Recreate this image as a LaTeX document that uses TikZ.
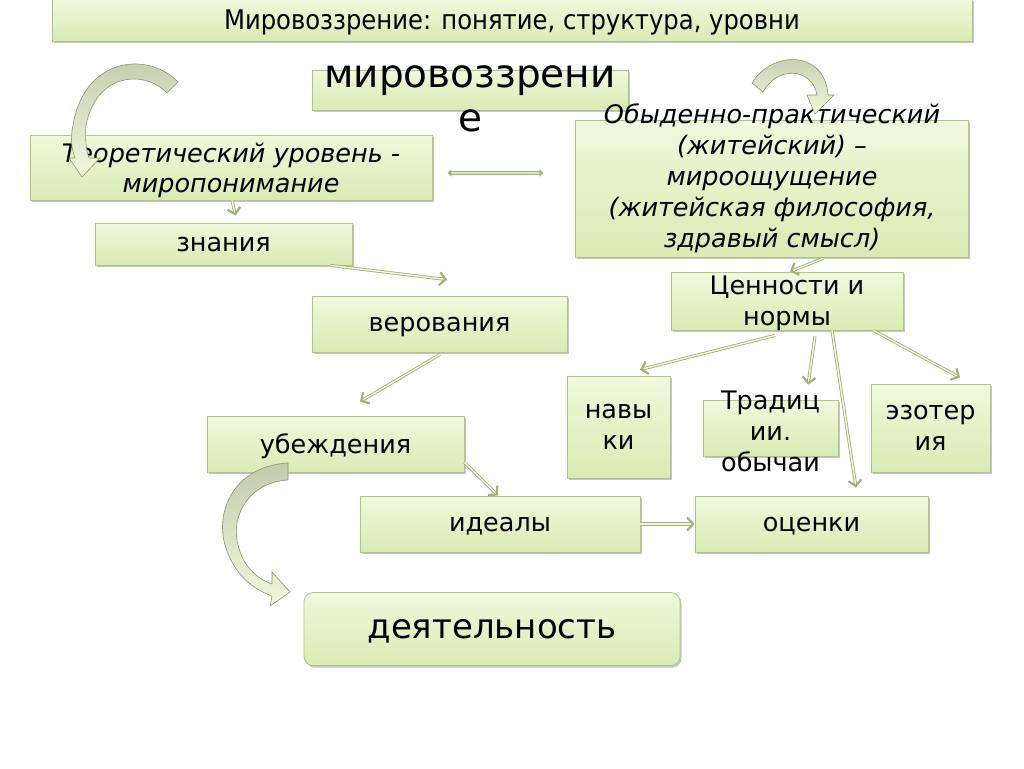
\documentclass[tikz,border=0pt]{standalone}
\usepackage{fontspec}
\setmainfont{DejaVu Sans}
\newfontfamily\titlefont{DejaVu Sans Condensed}
\usetikzlibrary{positioning, arrows.meta, shadows}

\definecolor{cajaarriba}{HTML}{F1F8DC}
\definecolor{cajaabajo}{HTML}{D9EBB3}
\definecolor{borde}{HTML}{B1C488}
\definecolor{flecha}{HTML}{A2B179}
\definecolor{curvagris}{HTML}{C3CAAE}

\begin{document}
\begin{tikzpicture}[x=1pt, y=-1pt,
  caja/.style={draw=borde, line width=0.8pt, top color=cajaarriba, bottom color=cajaabajo,
    drop shadow={shadow xshift=1.5pt, shadow yshift=-2pt, fill=black!50, opacity=0.45},
    inner sep=0pt, align=center, text depth=-3.5pt, font=\fontsize{25.5}{31}\selectfont},
  texto/.style={inner sep=0pt, align=center, font=\fontsize{25.5}{31}\selectfont},
  conector/.style={draw=flecha, line width=0.85pt, double=cajaarriba, double distance=1.4pt,
    -{Straight Barb[length=6pt, width=13pt, line width=2.2pt]}},
  doble/.style={draw=flecha, line width=0.7pt, double=cajaabajo, double distance=2.8pt,
    {Latex[length=4pt, width=8pt]}-{Latex[length=4pt, width=8pt]}},
  curva/.style={draw=flecha!85!black, line width=0.6pt, top color=curvagris, bottom color=cajaarriba}
]
  \useasboundingbox (0,0) rectangle (1024,768);

  % Titulo
  \node[caja, minimum width=920, minimum height=42, font=\titlefont\fontsize{27}{31}\selectfont] (titulo) at (512,20) {Мировоззрение: понятие, структура, уровни};

  % Cajas principales
  \node[caja, minimum width=316, minimum height=40] (mirbox) at (470,90) {};
  \node[texto, font=\fontsize{39}{44}\selectfont] (mirtext) at (470,99) {мировоззрени\\е};

  \node[caja, minimum width=402, minimum height=65, font=\itshape\fontsize{25.5}{30}\selectfont] (teor) at (231,167.5) {Теоретический уровень -\\миропонимание};

  \node[caja, minimum width=393, minimum height=137] (obydbox) at (771.5,188.5) {};
  \node[texto, font=\itshape\fontsize{25.5}{31}\selectfont] (obydtext) at (772,178.5) {Обыденно-практический\\(житейский) –\\мироощущение\\(житейская философия,\\здравый смысл)};

  % Rama izquierda
  \node[caja, minimum width=257, minimum height=42] (znan) at (223.5,244) {знания};
  \node[caja, minimum width=255, minimum height=56] (ver) at (439.5,324) {верования};
  \node[caja, minimum width=257, minimum height=56] (ubezh) at (335.5,444) {убеждения};
  \node[caja, minimum width=280, minimum height=56] (ideal) at (500,524) {идеалы};
  \node[caja, minimum width=233, minimum height=56] (ocen) at (811.5,524) {оценки};
  \node[caja, minimum width=376, minimum height=73, rounded corners=9pt, font=\fontsize{34}{40}\selectfont] (deyat) at (492,629) {деятельность};

  % Rama derecha
  \node[caja, minimum width=232, minimum height=58] (cen) at (787,301) {Ценности и\\нормы};
  \node[caja, minimum width=103, minimum height=102] (navyki) at (618.5,427) {навы\\ки};
  \node[caja, minimum width=135, minimum height=56] (tradbox) at (770.5,428) {};
  \node[texto] (tradtext) at (770.5,431) {Традиц\\ии.\\обычаи};
  \node[caja, minimum width=119, minimum height=88] (ezo) at (930.5,428) {эзотер\\ия};

  % Conectores
  \draw[doble] ([shift={(15,5.5)}]teor.east) -- ([shift={(-31,-15.5)}]obydbox.west);
  \draw[conector] ([xshift=1pt]teor.south) -- ([shift={(12,-7)}]znan.north);
  \draw[conector] ([xshift=-22pt]znan.south east) -- ([shift={(7.5,-16)}]ver.north);
  \draw[conector] ([shift={(0.5,2)}]ver.south) -- ([shift={(24.5,-14)}]ubezh.north);
  \draw[conector] ([shift={(0,-10)}]ubezh.south east) -- ([xshift=-2pt]ideal.north);
  \draw[conector] (ideal.east) -- (ocen.west);
  \draw[conector] ([shift={(51.5,1)}]obydbox.south) -- ([xshift=3pt]cen.north);
  \draw[conector] ([shift={(-12,5)}]cen.south) -- ([shift={(21.5,-6)}]navyki.north);
  \draw[conector] ([shift={(28,6)}]cen.south) -- ([shift={(37.5,-15)}]tradbox.north);
  \draw[conector] ([xshift=45pt]cen.south) -- ([shift={(44.5,-8)}]ocen.north);
  \draw[conector] ([xshift=-30pt]cen.south east) -- ([shift={(29.5,-6)}]ezo.north);

  % Flechas curvas
  \shadedraw[curva] (178,82) .. controls (150,52) and (85,55) .. (73,125) .. controls (70,140) and (72,150) .. (75,158) -- (69,158) -- (82,177) -- (100,158) -- (89,158) .. controls (86,150) and (85,140) .. (86,125) .. controls (97,72) and (145,70) .. (167,93) -- cycle; % arriba izquierda
  \shadedraw[curva] (752,83) .. controls (772,50) and (825,50) .. (828,95) -- (834,95) -- (815,114) -- (807,95) -- (817,95) .. controls (812,68) and (778,65) .. (763,92) -- cycle; % arriba derecha
  \shadedraw[curva] (288,463) .. controls (235,466) and (215,510) .. (225,545) .. controls (233,572) and (250,588) .. (272,596) -- (270,606) -- (290,592) -- (272,572) -- (272,584) .. controls (255,578) and (243,565) .. (238,545) .. controls (230,515) and (250,482) .. (288,480) -- cycle; % hacia la actividad
\end{tikzpicture}
\end{document}
